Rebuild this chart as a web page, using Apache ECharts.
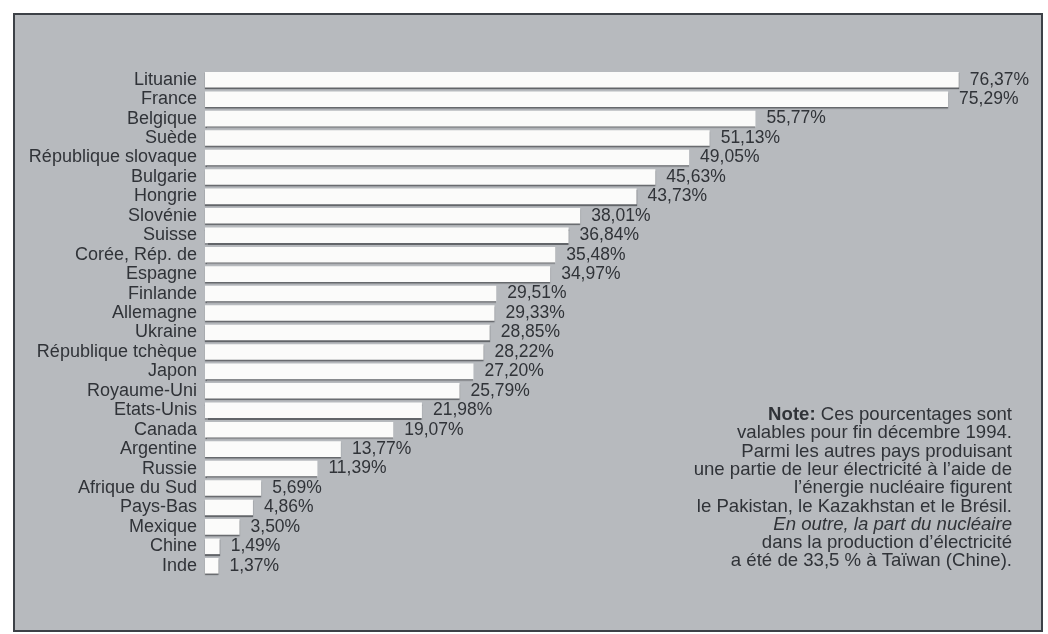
<!DOCTYPE html>
<html>
<head>
<meta charset="utf-8">
<script src="https://cdn.jsdelivr.net/npm/echarts@6/dist/echarts.min.js"></script>
<style>
html,body{margin:0;padding:0;background:#ffffff;}
#chart{width:1048px;height:634px;}
</style>
</head>
<body>
<div id="chart"></div>
<script>
const countries = ["Lituanie","France","Belgique","Suède","République slovaque","Bulgarie","Hongrie","Slovénie","Suisse","Corée, Rép. de","Espagne","Finlande","Allemagne","Ukraine","République tchèque","Japon","Royaume-Uni","Etats-Unis","Canada","Argentine","Russie","Afrique du Sud","Pays-Bas","Mexique","Chine","Inde"];
const shares = [76.37,75.29,55.77,51.13,49.05,45.63,43.73,38.01,36.84,35.48,34.97,29.51,29.33,28.85,28.22,27.20,25.79,21.98,19.07,13.77,11.39,5.69,4.86,3.50,1.49,1.37];
const noteLines = [
  "{b|Note:} Ces pourcentages sont",
  "valables pour fin décembre 1994.",
  "Parmi les autres pays produisant",
  "une partie de leur électricité à l\u2019aide de",
  "l\u2019énergie nucléaire figurent",
  "le Pakistan, le Kazakhstan et le Brésil.",
  "{i|En outre, la part du nucléaire}",
  "dans la production d\u2019électricité",
  "a été de 33,5 % à Taïwan (Chine)."
];

const FONT = '"Liberation Sans", Arial, Helvetica, sans-serif';
const TXT = '#303338';
const NOTE_FS = 18.6;
const chart = echarts.init(document.getElementById('chart'), null, {renderer: 'canvas'});
chart.setOption({
  backgroundColor: '#ffffff',
  animation: false,
  grid: {left: 205, right: 53.4, top: 70, bottom: 58.5, containLabel: false},
  xAxis: {type: 'value', min: 0, max: 80, show: false},
  yAxis: {
    type: 'category', data: countries, inverse: true,
    axisLine: {show: false}, axisTick: {show: false}, splitLine: {show: false},
    axisLabel: {margin: 8, color: TXT, fontSize: 18, fontFamily: FONT, interval: 0}
  },
  series: [{
    type: 'bar', data: shares, barCategoryGap: '20%',
    itemStyle: {color: '#fbfbfa', shadowColor: 'rgba(70,72,76,0.75)', shadowOffsetY: 1.5, shadowBlur: 1},
    label: {
      show: true, position: 'right', distance: 11, color: TXT, fontSize: 17.5, fontFamily: FONT,
      formatter: p => p.value.toFixed(2).replace('.', ',') + '%'
    }
  }],
  graphic: [
    {type: 'rect', z: -10, silent: true,
     shape: {x: 14, y: 14, width: 1028, height: 617},
     style: {fill: '#b7babe', stroke: '#3d4147', lineWidth: 2}},
    {type: 'text', z: 100, silent: true, x: 1012, y: 405.8,
     style: {
       text: noteLines.join('\n'), align: 'right', verticalAlign: 'top',
       fill: TXT, fontSize: NOTE_FS, fontFamily: FONT, lineHeight: 18.3,
       rich: {
         b: {fontWeight: 'bold', fontSize: NOTE_FS, fontFamily: FONT, lineHeight: 18.3, fill: TXT},
         i: {fontStyle: 'italic', fontSize: NOTE_FS, fontFamily: FONT, lineHeight: 18.3, fill: TXT}
       }
     }}
  ]
});
</script>
</body>
</html>
